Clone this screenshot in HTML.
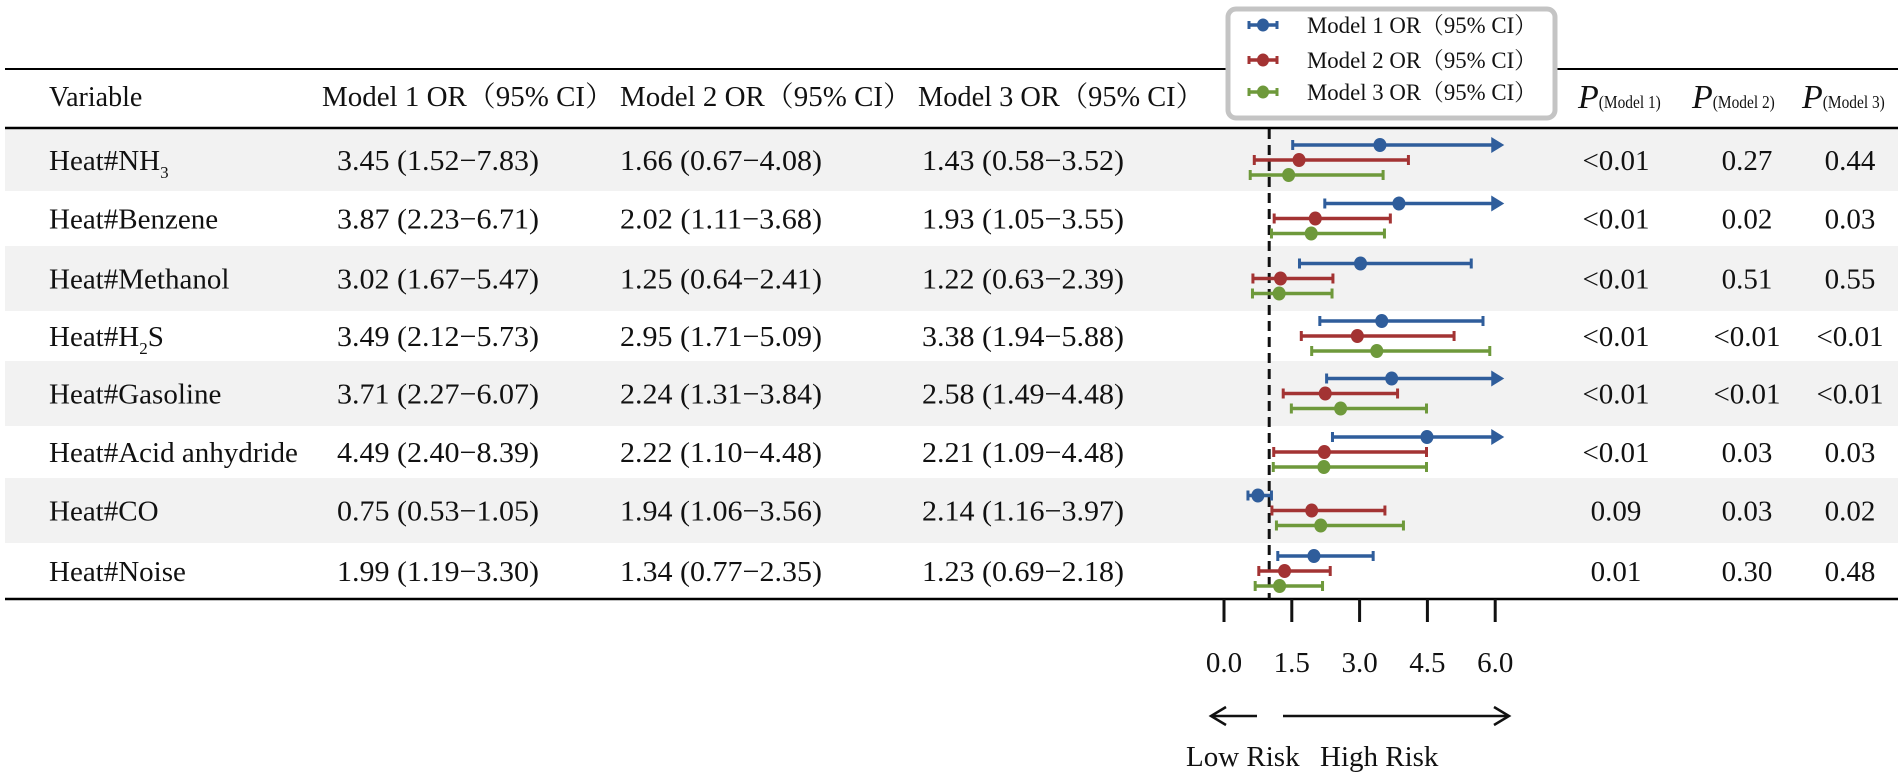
<!DOCTYPE html>
<html><head><meta charset="utf-8"><style>
html,body{margin:0;padding:0;background:#fff;}
svg{display:block;font-family:"Liberation Serif","Noto Serif CJK SC",serif;}
</style></head><body>
<svg id="chart" width="1901" height="778" viewBox="0 0 1901 778" xmlns="http://www.w3.org/2000/svg">
<g id="bands"></g>
<g id="table"></g>
<g id="plot"></g>
<g id="legend"></g>
</svg>
<script>
const variables = ["Heat#NH3","Heat#Benzene","Heat#Methanol","Heat#H2S","Heat#Gasoline","Heat#Acid anhydride","Heat#CO","Heat#Noise"];
const or1 = [3.45,3.87,3.02,3.49,3.71,4.49,0.75,1.99];
const lo1 = [1.52,2.23,1.67,2.12,2.27,2.40,0.53,1.19];
const hi1 = [7.83,6.71,5.47,5.73,6.07,8.39,1.05,3.30];
const or2 = [1.66,2.02,1.25,2.95,2.24,2.22,1.94,1.34];
const lo2 = [0.67,1.11,0.64,1.71,1.31,1.10,1.06,0.77];
const hi2 = [4.08,3.68,2.41,5.09,3.84,4.48,3.56,2.35];
const or3 = [1.43,1.93,1.22,3.38,2.58,2.21,2.14,1.23];
const lo3 = [0.58,1.05,0.63,1.94,1.49,1.09,1.16,0.69];
const hi3 = [3.52,3.55,2.39,5.88,4.48,4.48,3.97,2.18];
const p1 = ["<0.01","<0.01","<0.01","<0.01","<0.01","<0.01","0.09","0.01"];
const p2 = ["0.27","0.02","0.51","<0.01","<0.01","0.03","0.03","0.30"];
const p3 = ["0.44","0.03","0.55","<0.01","<0.01","0.03","0.02","0.48"];
const xTicks = [0,1.5,3.0,4.5,6.0];
const xTickLabels = ["0.0","1.5","3.0","4.5","6.0"];
const refValue = 1;
const xMax = 6.2;

const NS="http://www.w3.org/2000/svg";
function mk(tag, parent, attrs){const e=document.createElementNS(NS,tag);for(const k in attrs)e.setAttribute(k,attrs[k]);parent.appendChild(e);return e;}
const X = v => 1224 + v*45.2;
const rowTop=[129,191,246,311,361,426,478,543], rowBot=[191,246,311,361,426,478,543,599];
const rowC = i => (rowTop[i]+rowBot[i])/2;
const bands=document.getElementById('bands'), table=document.getElementById('table'), plot=document.getElementById('plot'), legend=document.getElementById('legend');
const colors=["#2f5d9b","#a33333","#6e993b"];
const fmt=v=>v.toFixed(2);

for(let i=0;i<8;i++){ if(i%2===0){
  const r=mk('rect',bands,{x:5,y:rowTop[i],width:1893,height:rowBot[i]-rowTop[i],fill:"#f2f2f2"});
  
  
}}
[[69,2],[128,2.5],[599,2.5]].forEach(([y,w])=>{
  const l=mk('line',table,{x1:5,x2:1898,y1:y,y2:y,stroke:"#000","stroke-width":w});
  
  
});
function txt(parent,x,y,s,size,extra){const t=mk('text',parent,Object.assign({x:x,y:y,'font-size':size,fill:"#111"},extra||{}));t.textContent=s;return t;}
let h=txt(table,49,106,"Variable",28);  
const hx=[322,620,918];
for(let m=0;m<3;m++){
  h=txt(table,hx[m],106,"Model "+(m+1)+" OR（95% CI）",28,{textLength:(m===2?286:292),lengthAdjust:"spacingAndGlyphs"});
  
  
}
const phx=[1578,1692,1802];
for(let m=0;m<3;m++){
  const t=mk('text',table,{x:phx[m],y:108,fill:"#111"});
  
  
  const a=mk('tspan',t,{'font-size':34,'font-style':'italic'});a.textContent="P";
  const b=mk('tspan',t,{'font-size':18,textLength:62,lengthAdjust:"spacingAndGlyphs"});b.textContent="(Model "+(m+1)+")";
}
const valX=[337,620,922];
const ors=[or1,or2,or3], los=[lo1,lo2,lo3], his=[hi1,hi2,hi3], ps=[p1,p2,p3];
const pcx=[1616,1747,1850];
for(let i=0;i<8;i++){
  const y=rowC(i)+10;
  const v=variables[i];
  const t=mk('text',table,{x:49,y:y,'font-size':29,fill:"#111"});
  
  
  const m=v.match(/^(.*?)(\d)(.*)$/);
  if(m && (v.includes("NH")||v.includes("H2S"))){
    const s1=mk('tspan',t,{});s1.textContent=m[1];
    const s2=mk('tspan',t,{'font-size':17,dy:8});s2.textContent=m[2];
    const s3=mk('tspan',t,{dy:-8});s3.textContent=m[3];
  } else t.textContent=v;
  for(let k=0;k<3;k++){
    const c=txt(table,valX[k],y,fmt(ors[k][i])+" ("+fmt(los[k][i])+"−"+fmt(his[k][i])+")",29,{textLength:202,lengthAdjust:"spacingAndGlyphs"});
    
    
    const p=txt(table,pcx[k],y,ps[k][i],29,{'text-anchor':'middle'});
    
    
  }
}
let ref=mk('line',plot,{x1:X(refValue),x2:X(refValue),y1:129,y2:599,stroke:"#111","stroke-width":3,"stroke-dasharray":"10,6"});


for(let i=0;i<8;i++){
  for(let k=0;k<3;k++){
    const y=rowC(i)+(k-1)*15, col=colors[k];
    const lo=los[k][i], hi=his[k][i], o=ors[k][i];
    const g=mk('g',plot,{});
    
    
    const arrow=hi>6.0;
    const xe=arrow?X(xMax)-12:X(hi);
    mk('line',g,{x1:X(lo),x2:xe,y1:y,y2:y,stroke:col,"stroke-width":3.5});
    mk('line',g,{x1:X(lo),x2:X(lo),y1:y-5,y2:y+5,stroke:col,"stroke-width":3});
    if(arrow){ mk('polygon',g,{points:(X(xMax)-13)+","+(y-8)+" "+X(xMax)+","+y+" "+(X(xMax)-13)+","+(y+8),fill:col}); }
    else mk('line',g,{x1:X(hi),x2:X(hi),y1:y-5,y2:y+5,stroke:col,"stroke-width":3});
    const d=mk('ellipse',g,{cx:X(o),cy:y,rx:6.5,ry:7,fill:col});
    
    
  }
}
const ax=mk('g',plot,{});


xTicks.forEach((v,j)=>{
  mk('line',ax,{x1:X(v),x2:X(v),y1:599,y2:622,stroke:"#111","stroke-width":3});
  const t=txt(ax,X(v),672,xTickLabels[j],29,{'text-anchor':'middle'});
  
  
});
const arr=mk('g',plot,{fill:"none",stroke:"#111","stroke-width":2.5});


mk('line',arr,{x1:1212,x2:1257,y1:716,y2:716});
mk('polyline',arr,{points:"1226,707 1211,716 1226,725"});
mk('line',arr,{x1:1283,x2:1508,y1:716,y2:716});
mk('polyline',arr,{points:"1494,707 1509,716 1494,725"});
let lr=txt(plot,1186,766,"Low Risk",29);  
let hr=txt(plot,1320,766,"High Risk",29);  
const box=mk('rect',legend,{x:1228,y:9,width:327,height:109,rx:8,fill:"#fff",stroke:"#c4c4c4","stroke-width":5});


const ly=[25,60,92];
for(let k=0;k<3;k++){
  const g=mk('g',legend,{});
  
  
  mk('line',g,{x1:1248,x2:1278,y1:ly[k],y2:ly[k],stroke:colors[k],"stroke-width":3.5});
  mk('line',g,{x1:1249,x2:1249,y1:ly[k]-4,y2:ly[k]+4,stroke:colors[k],"stroke-width":3});
  mk('line',g,{x1:1277,x2:1277,y1:ly[k]-4,y2:ly[k]+4,stroke:colors[k],"stroke-width":3});
  mk('ellipse',g,{cx:1263,cy:ly[k],rx:6,ry:6.5,fill:colors[k]});
  txt(g,1307,ly[k]+8,"Model "+(k+1)+" OR（95% CI）",23,{textLength:230,lengthAdjust:"spacingAndGlyphs"});
}
</script>
</body></html>
